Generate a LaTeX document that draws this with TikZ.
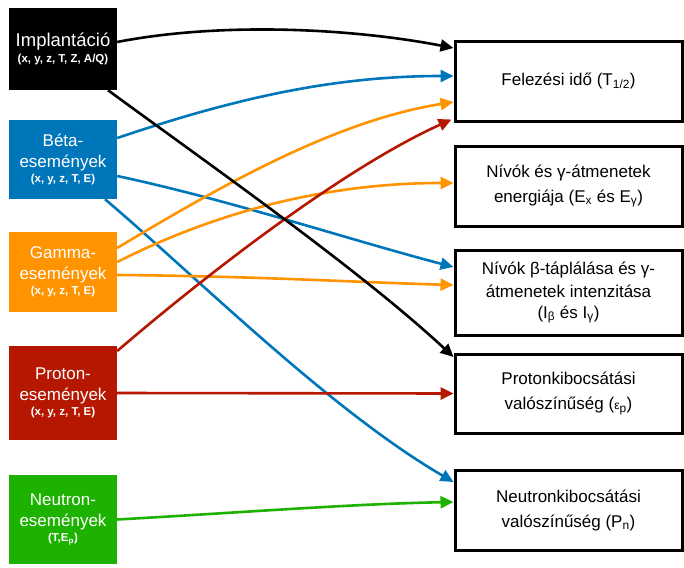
\documentclass[tikz,border=0pt]{standalone}
\usepackage{fontspec}
\setmainfont{Liberation Sans}
\usetikzlibrary{arrows.meta,calc}
\definecolor{kblue}{RGB}{0,118,186}
\definecolor{korange}{RGB}{255,147,0}
\definecolor{kred}{RGB}{181,23,0}
\definecolor{kgreen}{RGB}{29,177,0}
\newcommand{\subinfo}[1]{{\fontsize{11.5}{14}\bfseries\selectfont #1}}
\begin{document}
\begin{tikzpicture}[x=1pt,y=-1pt,
  srcbox/.style={rectangle, inner sep=0pt, minimum width=108pt, text=white,
    align=center, font=\fontsize{17}{21}\selectfont},
  tgtbox/.style={rectangle, draw=black, line width=3pt, inner sep=0pt,
    minimum width=227pt, fill=white, align=center,
    font=\fontsize{17}{25}\selectfont},
  link/.style={line width=2.6pt, -{Triangle[length=13pt,width=12pt]}},
]
\useasboundingbox (0,0) rectangle (684,567);

% measured quantities (left column)
\node[srcbox, fill=black, minimum height=82pt] (impl) at (63,49)
  {{\fontsize{18.5}{21}\selectfont Implantáció}\\[-5pt]\subinfo{(x, y, z, T, Z, A/Q)}};
\node[srcbox, fill=kblue, minimum height=79pt] (beta) at (63,159.5)
  {Béta-\\események\\[-6pt]\subinfo{(x, y, z, T, E)}};
\node[srcbox, fill=korange, minimum height=80pt] (gamma) at (63,272)
  {Gamma-\\események\\[-6pt]\subinfo{(x, y, z, T, E)}};
\node[srcbox, fill=kred, minimum height=94pt] (proton) at (63,393)
  {Proton-\\események\\[-6pt]\subinfo{(x, y, z, T, E)}};
\node[srcbox, fill=kgreen, minimum height=89pt] (neutron) at (63,519.5)
  {Neutron-\\események\\[-6pt]\subinfo{(T,E\textsubscript{p})}};

% derived quantities (right column)
\node[tgtbox, minimum height=79pt] (felez) at (568.5,81.5)
  {Felezési idő (T\textsubscript{1/2})};
\node[tgtbox, minimum height=80pt] (energ) at (568.5,186)
  {Nívók és γ-átmenetek\\energiája (E\textsubscript{x} és E\textsubscript{γ})};
\node[tgtbox, minimum height=85pt] (inten) at (568.5,292.5)
  {Nívók β-táplálása és γ-\\[-2pt]átmenetek intenzitása\\[-4pt](I\textsubscript{β} és I\textsubscript{γ})};
\node[tgtbox, minimum height=79pt] (protk) at (568.5,393.5)
  {Protonkibocsátási\\valószínűség ({\fontsize{12}{12}\selectfont ε}\textsubscript{p})};
\node[tgtbox, minimum height=80pt] (neutk) at (568.5,510)
  {Neutronkibocsátási\\valószínűség (P\textsubscript{n})};

% connectors
\draw[link, kblue] ([yshift=21.5pt]beta.east) .. controls (230,100) and (330,76) .. ([yshift=5.5pt]felez.west);
\draw[link, kblue] ([yshift=-16.5pt]beta.east) .. controls (230,200) and (350,240) .. ([yshift=25.5pt]inten.west);
\draw[link, kblue] ([xshift=42pt]beta.south) .. controls (200,280) and (330,410) .. ([yshift=28pt]neutk.west);
\draw[link, korange] ([yshift=24pt]gamma.east) .. controls (230,180) and (340,120) .. ([yshift=-20.5pt]felez.west);
\draw[link, korange] ([yshift=10pt]gamma.east) .. controls (210,215) and (320,183) .. ([yshift=3pt]energ.west);
\draw[link, korange] ([yshift=-3pt]gamma.east) .. controls (250,276) and (350,282) .. ([yshift=7.5pt]inten.west);
\draw[link, kred] ([yshift=42pt]proton.east) .. controls (200,280) and (340,170) .. ([shift={(-2pt,3pt)}]felez.south west);
\draw[link, kred] (proton.east) -- (protk.west);
\draw[link, kgreen] (neutron.east) .. controls (250,512) and (350,504) .. ([yshift=8pt]neutk.west);
\draw[link, black] ([yshift=7pt]impl.east) .. controls (220,22) and (350,28) .. ([yshift=33.5pt]felez.west);
\draw[link, black] ([xshift=45pt]impl.south) .. controls (210,165) and (360,270) .. ([yshift=36.5pt]protk.west);
\end{tikzpicture}
\end{document}
